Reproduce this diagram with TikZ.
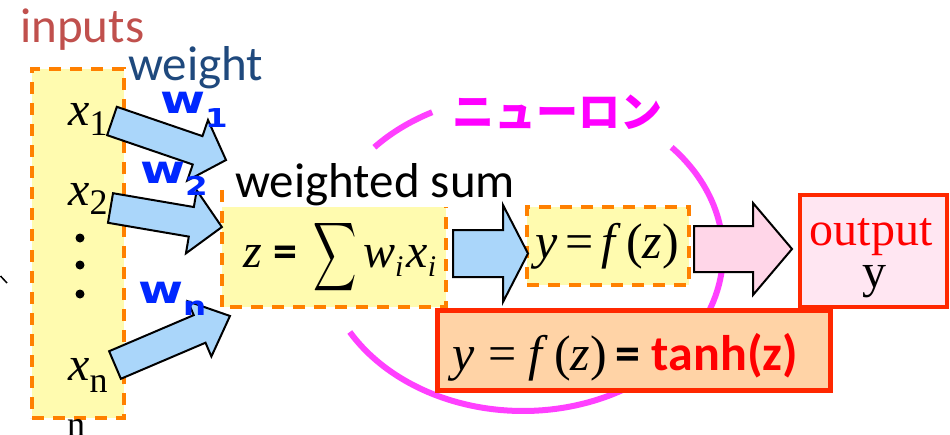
\documentclass[tikz,border=0pt]{standalone}
\usepackage{fontspec}
\setmainfont{Liberation Serif}
\setsansfont{Carlito}
\newfontfamily\wfont{DejaVu Sans}[FakeStretch=1.25]
\newfontfamily\jpfont{Noto Sans CJK JP}
\definecolor{yfill}{RGB}{255,251,175}
\definecolor{dashor}{RGB}{255,128,0}
\definecolor{arrblue}{RGB}{170,214,250}
\definecolor{arrpink}{RGB}{255,214,232}
\definecolor{outfill}{RGB}{255,230,242}
\definecolor{redline}{RGB}{255,40,0}
\definecolor{tanhfill}{RGB}{255,211,166}
\definecolor{inred}{RGB}{192,80,77}
\definecolor{wtblue}{RGB}{31,73,125}
\definecolor{wblue}{RGB}{0,40,255}
\definecolor{neuro}{RGB}{255,64,255}
\definecolor{jpmag}{RGB}{255,0,255}
\newcommand\blockarr[7]{\begin{scope}[shift={#2},rotate=#3]
\draw[#1] (0,-#6) -- ({#4-#5},-#6) -- ({#4-#5},-#7) -- (#4,0) -- ({#4-#5},#7) -- ({#4-#5},#6) -- (0,#6) -- cycle;
\end{scope}}
\begin{document}
\begin{tikzpicture}[x=1pt,y=-1pt,
  ybox/.style={fill=yfill, draw=dashor, line width=4, dash pattern=on 12pt off 9pt, inner sep=0},
  bluearr/.style={fill=arrblue, draw=black, line width=2},
  pinkarr/.style={fill=arrpink, draw=black, line width=2},
  big/.style={font=\fontsize{48}{56}\selectfont},
  sub/.style={inner sep=0, anchor=base west},
  wlab/.style={inner sep=0, anchor=base west, text=wblue, font=\wfont\bfseries\fontsize{39}{42}\selectfont},
]
\useasboundingbox (0,0) rectangle (950,434);

% neuron ellipse (visible arcs)
\draw[neuro, line width=6] plot[domain=117:138, samples=20, smooth, variable=\t] ({523+200*cos(\t)},{253-158*sin(\t)});
\draw[neuro, line width=6] plot[domain=-150:42, samples=80, smooth, variable=\t] ({523+200*cos(\t)},{253-158*sin(\t)});

% titles
\node[sub, text=inred, font=\sffamily\fontsize{49}{58}\selectfont] (inputs) at (20,42) {inputs};
\node[sub, text=wtblue, font=\sffamily\fontsize{49}{58}\selectfont] (weight) at (128,80) {weight};
\node[text=jpmag, font=\jpfont\bfseries\fontsize{42}{48}\selectfont, inner sep=0] (neuron) at (557,112) {ニューロン};

% input box
\node[ybox, minimum width=92, minimum height=349] (inbox) at (78,243.5) {};
\node[sub, big] (x1) at (68,125) {\textit{x}\raisebox{-10pt}{\fontsize{36}{40}\selectfont 1}};
\node[sub, big] (x2) at (68,205) {\textit{x}\raisebox{-9pt}{\fontsize{36}{40}\selectfont 2}};
\node[sub, big] (xn) at (68,380) {\textit{x}\raisebox{-12pt}{\fontsize{36}{40}\selectfont n}};
\foreach \yy/\nm in {238/d1,265/d2,294/d3}
  \node[circle, fill=black, inner sep=0, minimum size=9] (\nm) at (80,\yy) {};

% sum box
\node[fill=yfill, inner sep=0, minimum width=224, minimum height=100] (sumbox) at (334,257) {};
\draw[draw=dashor, line width=4, dash pattern=on 12pt off 9pt] ([yshift=17pt]sumbox.north west) -- (sumbox.south west) -- (sumbox.south east) -- (sumbox.north east);
\node[sub, font=\sffamily\fontsize{49}{58}\selectfont] (wsum) at (235,197) {weighted sum};
\node[sub, big] (zform) at (243,267) {\textit{z}\hspace{12pt}{\sffamily\bfseries =}\hspace{16pt}{\fontsize{10}{12}\selectfont\raisebox{-2pt}{\scalebox{3.0}[4.8]{$\displaystyle\sum$}}}\hspace{6pt}\textit{w}\raisebox{-9pt}{\fontsize{30}{34}\selectfont\textit{i}}\hspace{3pt}\textit{x}\raisebox{-9pt}{\fontsize{30}{34}\selectfont\textit{i}}};

% f box
\node[ybox, minimum width=162, minimum height=78] (fbox) at (608,246) {};
\node[inner sep=0, font=\fontsize{50}{56}\selectfont] (fz) at (607,246) {\textit{y}\hspace{8pt}=\hspace{8pt}\textit{f}\hspace{5pt}(\textit{z})};

% arrows
\blockarr{bluearr}{(112,121)}{-18.9}{120.5}{30}{15}{32}
\blockarr{bluearr}{(110.5,208)}{-9.7}{113}{31}{15}{32}
\blockarr{bluearr}{(115,365)}{23.1}{125}{33}{15}{30}
\blockarr{bluearr}{(453,253.5)}{0}{75}{25}{23.5}{48.5}
\blockarr{pinkarr}{(694,249)}{0}{98}{39}{23}{46}

% weight labels
\node[wlab] (w1) at (160,113) {w\raisebox{-14pt}{\fontsize{26}{30}\selectfont 1}};
\node[wlab] (w2) at (140,183) {w\raisebox{-12pt}{\fontsize{26}{30}\selectfont 2}};
\node[wlab] (wn) at (138,303) {w\raisebox{-12pt}{\fontsize{26}{30}\selectfont n}};

% output box
\node[fill=outfill, draw=redline, line width=4.5, inner sep=0, minimum width=147, minimum height=112] (outbox) at (873.5,251) {};
\node[big, text=red, inner sep=0, anchor=base] (outtxt) at (871,245) {output};
\node[big, inner sep=0, anchor=base] (ytxt) at (874,287) {y};

% tanh box
\node[fill=tanhfill, draw=redline, line width=5, inner sep=0, minimum width=393, minimum height=80] (tanhbox) at (633.5,350) {};
\node[sub, font=\fontsize{50}{56}\selectfont] (tanhtxt) at (452,370) {\textit{y}\hspace{14pt}=\hspace{12pt}\textit{f}\hspace{6pt}(\textit{z})\hspace{8pt}{\sffamily\bfseries =\hspace{12pt}\textcolor{red}{tanh(z)}}};

% fragments at the edges
\draw[line width=1.5] (0.5,276) -- (7,283);
\node[inner sep=0, anchor=base, font=\fontsize{36}{40}\selectfont] (ncut) at (76,436) {n};
\end{tikzpicture}
\end{document}
